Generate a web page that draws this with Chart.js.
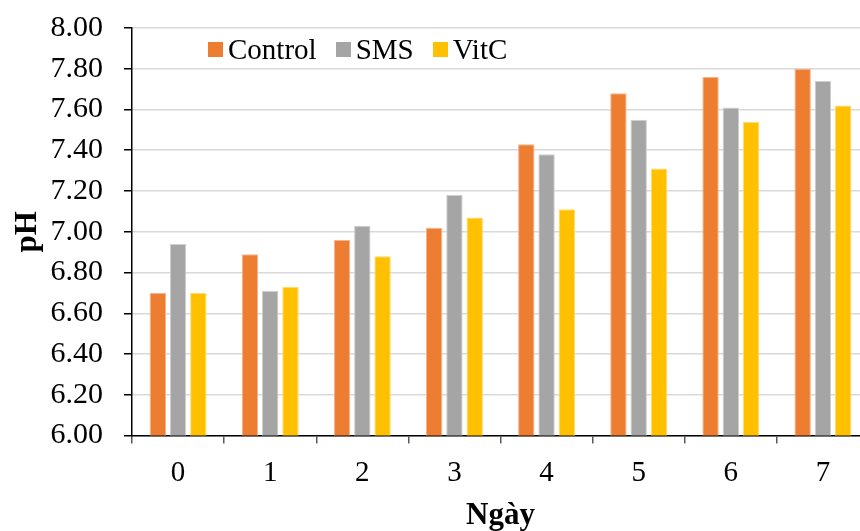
<!DOCTYPE html>
<html>
<head>
<meta charset="utf-8">
<script src="https://cdn.jsdelivr.net/npm/chart.js@4/dist/chart.umd.min.js"></script>
<style>
    html, body { margin: 0; padding: 0; background: #fff; overflow: hidden; }
    #wrap { position: relative; width: 870px; height: 531px; }
    #legend {
        position: absolute; left: 208px; top: 35px;
        display: flex; align-items: center;
        font-family: 'Liberation Serif', 'Times New Roman', serif;
        font-size: 29px; line-height: 1; color: #000;
    }
    #legend .item { display: flex; align-items: center; margin-right: 19px; }
    #legend .box { width: 15px; height: 15px; margin-right: 5px; }
</style>
</head>
<body>
<div id="wrap">
    <canvas id="phChart" width="870" height="531"></canvas>
    <div id="legend"></div>
</div>
<script>
// pH by storage day
const days = ['0', '1', '2', '3', '4', '5', '6', '7'];
const controlPH = [6.70, 6.89, 6.96, 7.02, 7.43, 7.68, 7.76, 7.80];
const smsPH = [6.94, 6.71, 7.03, 7.18, 7.38, 7.55, 7.61, 7.74];
const vitcPH = [6.70, 6.73, 6.88, 7.07, 7.11, 7.31, 7.54, 7.62];
const seriesNames = ['Control', 'SMS', 'VitC'];
const seriesColors = ['#ed7d31', '#a5a5a5', '#ffc000'];
const seriesBorders = ['#f5b48c', '#cfcfcf', '#ffdc70'];

const serif = "'Liberation Serif', 'Times New Roman', serif";

const ctx = document.getElementById('phChart').getContext('2d');

const chart = new Chart(ctx, {
    type: 'bar',
    data: {
        labels: days,
        datasets: [controlPH, smsPH, vitcPH].map((values, i) => ({
            label: seriesNames[i],
            data: values,
            backgroundColor: seriesColors[i],
            borderColor: seriesBorders[i],
            borderWidth: 1,
            categoryPercentage: 0.66,
            barPercentage: 0.81
        }))
    },
    options: {
        responsive: false,
        animation: false,
        devicePixelRatio: 1,
        layout: {
            padding: { top: 28, right: 1, left: 0, bottom: 0 }
        },
        plugins: {
            legend: { display: false },
            tooltip: { enabled: false }
        },
        scales: {
            x: {
                afterFit: function(scale) { scale.height = 95.5; },
                grid: {
                    drawOnChartArea: false,
                    drawTicks: true,
                    tickLength: 8,
                    tickColor: '#595959',
                    lineWidth: 1.5
                },
                border: { display: true, color: '#000', width: 1.5 },
                ticks: {
                    color: '#000',
                    padding: 12,
                    font: { family: serif, size: 29 }
                },
                title: {
                    display: true,
                    text: 'Ngày',
                    color: '#000',
                    padding: { top: 0, bottom: 0 },
                    font: { family: serif, size: 31, weight: 'bold', lineHeight: 1 }
                }
            },
            y: {
                min: 6,
                max: 8,
                afterFit: function(scale) {
                    scale.width = 132;
                    scale.paddingTop = 0;
                    scale.paddingBottom = 0;
                },
                grid: {
                    color: '#d9d9d9',
                    lineWidth: 1.5,
                    tickColor: '#000',
                    tickLength: 8
                },
                border: { display: true, color: '#000', width: 1.5 },
                ticks: {
                    stepSize: 0.2,
                    color: '#000',
                    padding: 21,
                    font: { family: serif, size: 30 },
                    callback: function(value) { return value.toFixed(2); }
                },
                title: {
                    display: true,
                    text: 'pH',
                    color: '#000',
                    padding: { top: 12, bottom: 0 },
                    font: { family: serif, size: 31, weight: 'bold', lineHeight: 1 }
                }
            }
        }
    }
});

// Legend drawn inside the plot area, built from the datasets
const legendEl = document.getElementById('legend');
chart.data.datasets.forEach(ds => {
    const item = document.createElement('div');
    item.className = 'item';
    const box = document.createElement('span');
    box.className = 'box';
    box.style.background = ds.backgroundColor;
    const label = document.createElement('span');
    label.textContent = ds.label;
    item.appendChild(box);
    item.appendChild(label);
    legendEl.appendChild(item);
});
</script>
</body>
</html>
